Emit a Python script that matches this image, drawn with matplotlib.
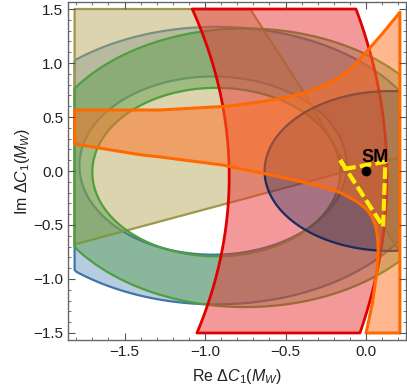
import numpy as np
import matplotlib
matplotlib.use('Agg')
import matplotlib.pyplot as plt
from matplotlib.patches import Polygon, PathPatch
from matplotlib.path import Path
from matplotlib.ticker import MultipleLocator

plt.rcParams['font.family'] = 'Liberation Sans'
plt.rcParams['mathtext.fontset'] = 'custom'
plt.rcParams['mathtext.rm'] = 'Liberation Sans'
plt.rcParams['mathtext.it'] = 'Liberation Sans:italic'

# region box of the scan
x_box = [-1.81, 0.21]
y_box = [-1.5, 1.5]

# ellipses: centre x, centre y, half width, half height
blue_outer = [-0.93, 0.05, 1.35, 1.285]
blue_inner = [-0.95, 0.05, 0.83, 0.825]
green_outer = [-0.75, 0.03, 1.29, 1.29]
green_inner = [-0.93, -0.01, 0.77, 0.78]
navy_disk = [0.15, 0.0, 0.78, 0.74]

# red band between two arcs of a far away centre: cx, cy, r_in, r_out
red_band = [-6.2, -0.05, 5.35, 6.33]

# olive double wedge
olive_left_x = [-0.109, -1.81, -1.81, -0.72, -0.37]
olive_left_y = [0.002, -0.68, 1.5, 1.5, 0.69]
olive_right_x = [-0.109, 0.21, 0.21]
olive_right_y = [0.002, 0.13, -0.75]

# orange horn region
orange_up_x = [-1.81, -1.28, -0.86, -0.66, -0.5, -0.37, -0.25, -0.16, -0.08,
               0.0, 0.1, 0.21]
orange_up_y = [0.565, 0.565, 0.60, 0.64, 0.68, 0.73, 0.80, 0.87, 0.97,
               1.10, 1.27, 1.47]
orange_low_x = [0.21, 0.0, 0.04, 0.065, 0.075, 0.072, 0.06, 0.035, 0.0, -0.06,
                -0.16, -0.27, -0.37, -0.58, -0.78, -0.89, -1.28, -1.40, -1.81]
orange_low_y = [-1.5, -1.5, -1.22, -0.95, -0.75, -0.62, -0.51, -0.42, -0.35, -0.28,
                -0.20, -0.15, -0.11, -0.04, 0.02, 0.055, 0.13, 0.15, 0.25]

# yellow dashed contour
yellow_x = [-0.16, 0.106, 0.12, -0.13, -0.16]
yellow_y = [0.10, -0.515, 0.086, 0.02, 0.10]

sm_point = (0.0, 0.0)


def ellipse_pts(e, reverse=False):
    t = np.linspace(0, 2*np.pi, 300)
    if reverse:
        t = t[::-1]
    x = np.clip(e[0] + e[2]*np.cos(t), x_box[0], x_box[1])
    y = np.clip(e[1] + e[3]*np.sin(t), y_box[0], y_box[1])
    return np.column_stack([x, y])


def ring(ax, outer, inner, face, edge, alpha):
    po = ellipse_pts(outer)
    pi = ellipse_pts(inner, reverse=True)
    verts = np.vstack([po, po[:1], pi, pi[:1]])
    codes = ([Path.MOVETO] + [Path.LINETO]*(len(po)-1) + [Path.CLOSEPOLY] +
             [Path.MOVETO] + [Path.LINETO]*(len(pi)-1) + [Path.CLOSEPOLY])
    ax.add_patch(PathPatch(Path(verts, codes), facecolor=face, alpha=alpha, lw=0))
    for pts in (po, pi):
        ax.add_patch(Polygon(pts, closed=True, fill=False, edgecolor=edge, lw=1.6))


def region(ax, xs, ys, face, edge, alpha, lw=1.8):
    ax.add_patch(Polygon(np.column_stack([xs, ys]), closed=True, facecolor=face,
                         alpha=alpha, lw=0))
    ax.add_patch(Polygon(np.column_stack([xs, ys]), closed=True, fill=False,
                         edgecolor=edge, lw=lw, joinstyle='round'))


fig = plt.figure(figsize=(4.07, 3.91), dpi=100)
ax = fig.add_axes([68/407, 1-340/391, 338/407, 338/391])

ring(ax, blue_outer, blue_inner, '#5e8fb8', '#3f76a6', 0.45)

region(ax, olive_left_x, olive_left_y, '#b8aa60', '#a09848', 0.5, lw=1.6)
region(ax, olive_right_x, olive_right_y, '#b8aa60', '#a09848', 0.5, lw=1.6)

ring(ax, green_outer, green_inner, '#4e9a40', '#4f9e3f', 0.42)

yy = np.linspace(y_box[0], y_box[1], 200)
cx, cy, r_in, r_out = red_band
red_x = np.concatenate([cx + np.sqrt(r_in**2 - (yy-cy)**2),
                        cx + np.sqrt(r_out**2 - (yy[::-1]-cy)**2)])
red_y = np.concatenate([yy, yy[::-1]])
region(ax, red_x, red_y, '#e83535', '#e00000', 0.5, lw=2.0)

nav = ellipse_pts(navy_disk)
region(ax, nav[:, 0], nav[:, 1], '#1a2a5a', '#1a2a5a', 0.35, lw=1.6)

ox = orange_up_x + orange_low_x
oy = orange_up_y + orange_low_y
region(ax, ox, oy, '#ff7020', '#ff6a00', 0.5, lw=2.2)

ax.plot(yellow_x, yellow_y, color='#ffee00', lw=3.0, dashes=(2.8, 1.0))
ax.plot(*sm_point, 'o', color='black', ms=6)
ax.text(sm_point[0]+0.055, sm_point[1]+0.085, 'SM', fontsize=13, fontweight='bold',
        ha='center', va='baseline')

ax.set_xlim(-1.851, 0.248)
ax.set_ylim(-1.565, 1.565)
ax.xaxis.set_major_locator(MultipleLocator(0.5))
ax.xaxis.set_minor_locator(MultipleLocator(0.1))
ax.yaxis.set_major_locator(MultipleLocator(0.5))
ax.yaxis.set_minor_locator(MultipleLocator(0.1))
ax.xaxis.set_major_formatter(lambda v, p: f'{v:.1f}'.replace('-', '\u2212'))
ax.yaxis.set_major_formatter(lambda v, p: f'{v:.1f}'.replace('-', '\u2212'))
ax.tick_params(which='both', direction='in', top=True, right=True, color='#555555',
               labelsize=11, labelcolor='#222222')
ax.tick_params(which='major', length=5, width=0.8)
ax.tick_params(which='minor', length=2.5, width=0.6)
for s in ax.spines.values():
    s.set_color('#666666')
    s.set_linewidth(1.0)

ax.set_xlabel(r'Re $\Delta C_1(M_W)$', fontsize=11.5, color='#222222', labelpad=6)
ax.set_ylabel(r'Im $\Delta C_1(M_W)$', fontsize=11.5, color='#222222', labelpad=1)

fig.savefig('out.png', dpi=100)
